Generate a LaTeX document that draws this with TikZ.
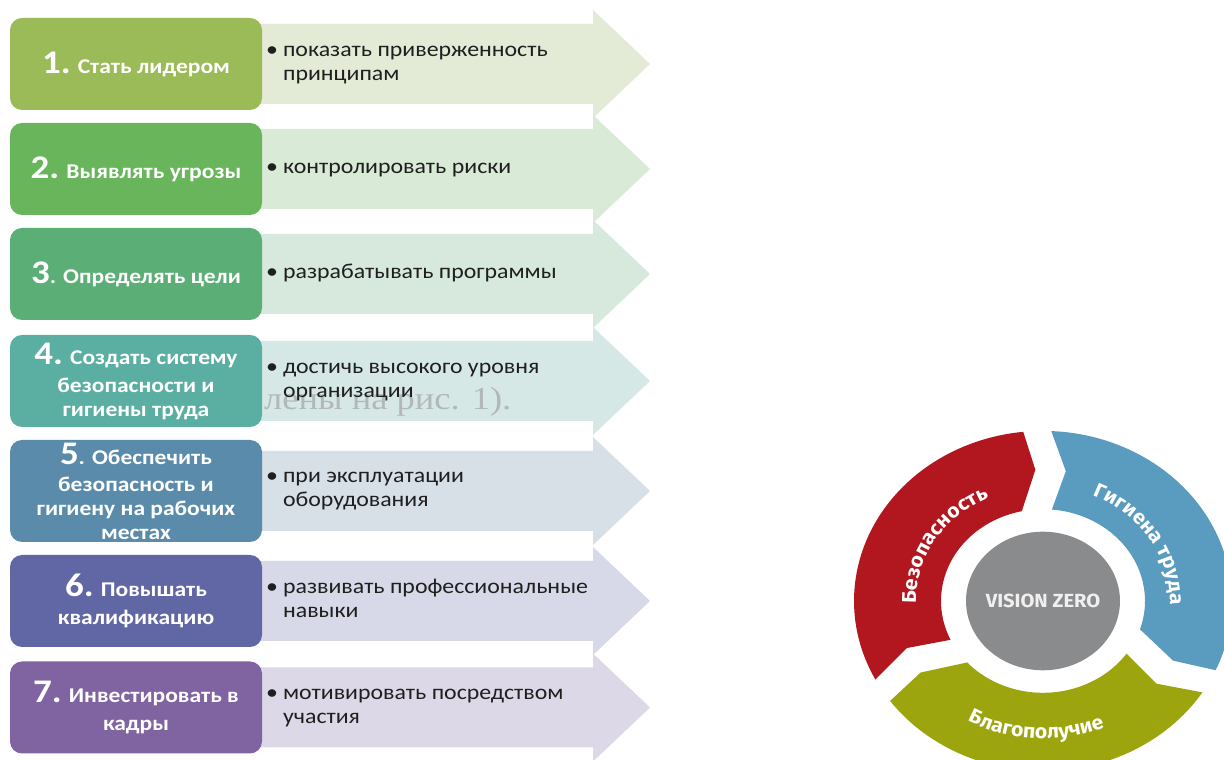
\documentclass[tikz,border=0pt]{standalone}
\usepackage{fontspec}
\usetikzlibrary{decorations.text}
\setmainfont{Carlito}
\newfontfamily\titlefont{Carlito}[FakeStretch=1.12]
\newfontfamily\bulfont{Carlito}[FakeStretch=1.12]
\newfontfamily\circfont{Fira Sans}[FakeStretch=1.06]
\newfontfamily\ghostfont{Liberation Serif}[FakeStretch=1.14]
\definecolor{c1}{HTML}{9BBB59}
\definecolor{c2}{HTML}{69B55B}
\definecolor{c3}{HTML}{5BAE75}
\definecolor{c4}{HTML}{5AAEA2}
\definecolor{c5}{HTML}{5B8BAA}
\definecolor{c6}{HTML}{6167A5}
\definecolor{c7}{HTML}{8064A2}
\definecolor{a1}{HTML}{E3EAD6}
\definecolor{a2}{HTML}{D9EAD6}
\definecolor{a3}{HTML}{D6E9DC}
\definecolor{a4}{HTML}{D6E8E6}
\definecolor{a5}{HTML}{D7DFE7}
\definecolor{a6}{HTML}{D8D9E8}
\definecolor{a7}{HTML}{DDD8E7}
\definecolor{vzred}{HTML}{B2171F}
\definecolor{vzblue}{HTML}{5A9BC0}
\definecolor{vzgreen}{HTML}{9DA50E}
\definecolor{vzgray}{HTML}{8A8B8D}
\newcommand\bignr[1]{{\fontsize{33}{24}\selectfont #1}}
\newcommand\cfont{\circfont\bfseries\fontsize{20}{22}\selectfont}
\newcommand\ribbon[2]{\fill[#2] (250,#1+40) -- (593,#1+40) -- (593,#1+54) -- (650,#1) -- (593,#1-54) -- (593,#1-40) -- (250,#1-40) -- cycle;}
\newcommand\vzsegment[2]{\fill[#2, rotate=#1] (207.5:189pt) arc[start angle=207.5, end angle=96, radius=189pt] -- (93:146pt) -- (102:102pt) arc[start angle=102, end angle=205, radius=102pt] -- (201:146pt) -- cycle;}
\newcommand\bul[2]{\begin{tabular}{@{}l@{\hspace{5pt}}l@{}}•&#1\\&#2\end{tabular}}
\newcommand\buls[1]{\begin{tabular}{@{}l@{\hspace{5pt}}l@{}}•&#1\end{tabular}}
\begin{document}
\begin{tikzpicture}[x=1pt,y=1pt,
  box/.style={rounded corners=12pt, minimum width=252pt, minimum height=92pt, inner sep=0pt,
    text=white, font=\titlefont\bfseries\fontsize{21}{24}\selectfont, align=center},
  bullet/.style={anchor=west, text=black!88, font=\bulfont\fontsize{21.3}{24}\selectfont, inner sep=0pt},
  ghost/.style={anchor=base west, text=gray!80, opacity=0.6, font=\ghostfont\fontsize{32}{34}\selectfont, inner sep=0pt},
  arclabel/.style={decorate, decoration={text along path, text align=center, text color=white}}]
\useasboundingbox (0,0) rectangle (1224,760);
\fill[white] (0,0) rectangle (1224,760);
% arrows
\ribbon{696}{a1}
\ribbon{591}{a2}
\ribbon{486}{a3}
\ribbon{379}{a4}
\ribbon{269}{a5}
\ribbon{159}{a6}
\ribbon{52.5}{a7}
% stray text
\node[ghost] (ghost) at (264,350) {лены на рис. 1).};
% boxes
\node[box, fill=c1] (b1) at (136,696) {\bignr{1.} Стать лидером};
\node[box, fill=c2] (b2) at (136,591) {\bignr{2.} Выявлять угрозы};
\node[box, fill=c3] (b3) at (136,486) {\bignr{3}. Определять цели};
\node[box, fill=c4] (b4) at (136,379) {\bignr{4.} Создать систему\\[4pt] безопасности и\\ гигиены труда};
\node[box, fill=c5, minimum height=102pt] (b5) at (136,269) {\bignr{5}. Обеспечить\\[3pt] безопасность и\\ гигиену на рабочих\\ местах};
\node[box, fill=c6] (b6) at (136,159) {\bignr{6.} Повышать\\[4pt] квалификацию};
\node[box, fill=c7] (b7) at (136,52.5) {\bignr{7.} Инвестировать в\\[4pt] кадры};
% bullets
\node[bullet] (t1) at (266,696) {\bul{показать приверженность}{принципам}};
\node[bullet] (t2) at (266,591) {\buls{контролировать риски}};
\node[bullet] (t3) at (266,486) {\buls{разрабатывать программы}};
\node[bullet] (t4) at (266,379) {\bul{достичь высокого уровня}{организации}};
\node[bullet] (t5) at (266,270) {\bul{при эксплуатации}{оборудования}};
\node[bullet] (t6) at (266,159) {\bul{развивать профессиональные}{навыки}};
\node[bullet] (t7) at (266,53) {\bul{мотивировать посредством}{участия}};
% vision zero
\begin{scope}[shift={(1043,159)}, yscale=0.9]
  \vzsegment{0}{vzred}
  \vzsegment{-120}{vzblue}
  \vzsegment{120}{vzgreen}
  \fill[vzgray] (0,0) circle[radius=77pt];
  \path[arclabel, decoration={text={|\cfont|Безопасность}}] (198:127pt) arc[start angle=198, end angle=100, radius=127pt];
  \path[arclabel, decoration={text={|\cfont|Гигиена труда}}] (80:127pt) arc[start angle=80, end angle=-16, radius=127pt];
  \path[arclabel, decoration={text={|\cfont|Благополучие}}] (220:153pt) arc[start angle=220, end angle=314, radius=153pt];
\end{scope}
\node[text=white!94!black, font=\circfont\bfseries\fontsize{19}{22}\selectfont] (vz) at (1043,159) {VISION ZERO};
\end{tikzpicture}
\end{document}
